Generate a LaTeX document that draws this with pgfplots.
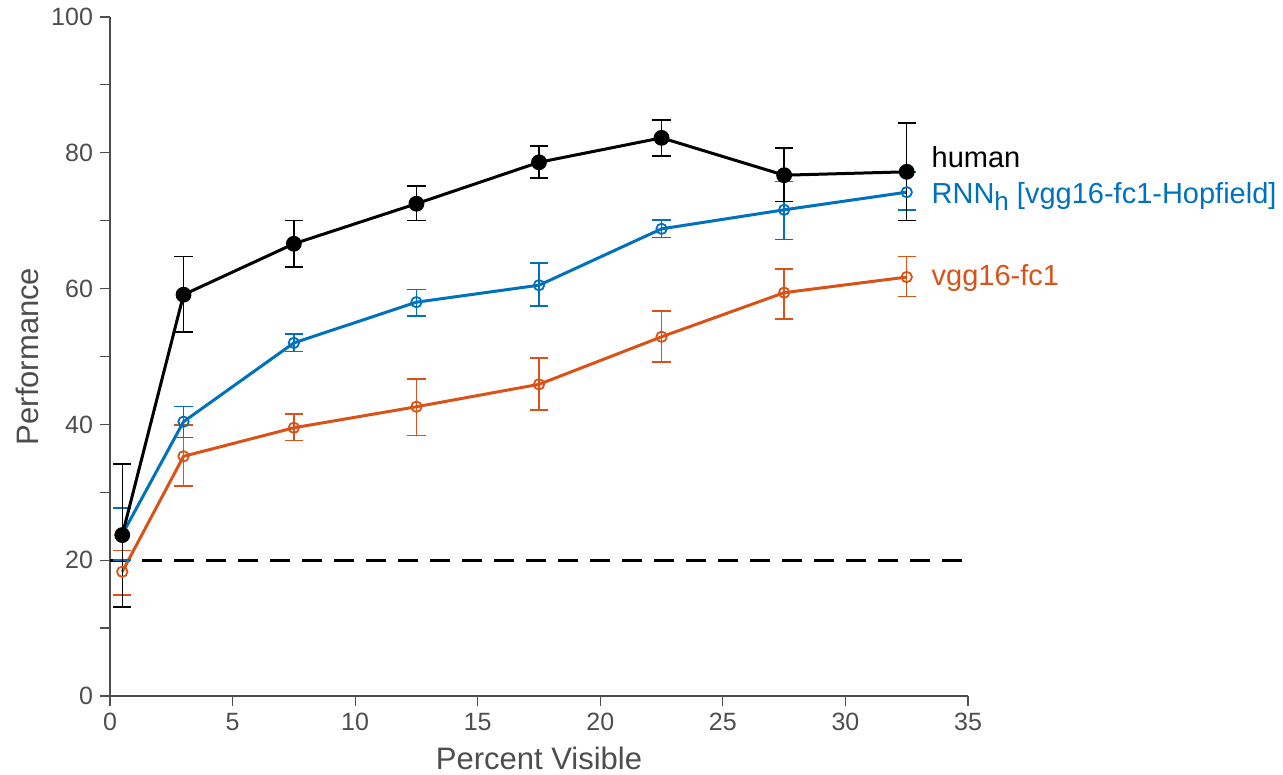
\documentclass[border=0pt]{standalone}
\usepackage{pgfplots}
\pgfplotsset{compat=1.18}
\usepackage{fontspec}
\setmainfont{Liberation Sans}
\definecolor{mblue}{HTML}{0072BD}
\definecolor{morange}{HTML}{D95319}
\definecolor{axgray}{HTML}{4D4D4D}
\begin{document}
\begin{tikzpicture}
\begin{axis}[
  scale only axis, width=429pt, height=339.5pt,
  xmin=0, xmax=35, ymin=0, ymax=100,
  axis lines*=left,
  axis line style={axgray, line width=0.6pt},
  tick align=outside,
  major tick length=5pt, minor tick length=5pt,
  tick style={axgray, line width=0.6pt},
  xtick={0,5,...,35}, ytick={0,20,...,100},
  minor ytick={10,30,50,70,90},
  /pgf/number format/assume math mode=true,
  ticklabel style={font=\fontsize{12.5}{14}\selectfont, text=axgray},
  xlabel={Percent Visible}, ylabel={Performance},
  label style={font=\fontsize{15.5}{17}\selectfont, text=axgray},
  xlabel style={at={(axis description cs:0.5,-0.0913)}, anchor=center},
  ylabel style={at={(axis description cs:-0.0967,0.5)}, anchor=center},
  clip=false,
  error bars/y dir=both, error bars/y explicit,
  error bars/error bar style={line width=0.75pt},
  error bars/error mark options={rotate=90, mark size=4.6pt, line width=0.75pt},
]
\coordinate (o) at (rel axis cs:0,0);
\addplot[black, line width=1.6pt, dash pattern=on 10pt off 6pt, forget plot] coordinates {(0,20) (35,20)};
\addplot[morange, line width=1.5pt, mark=o, mark size=2.6pt, mark options={line width=0.9pt}]
 table[x=x, y=y, y error plus=ep, y error minus=em] {
x y ep em
0.5 18.3 3.1 3.4
3 35.3 4.6 4.4
7.5 39.5 2.0 1.9
12.5 42.6 4.1 4.2
17.5 45.9 3.9 3.8
22.5 52.9 3.8 3.7
27.5 59.4 3.5 3.9
32.5 61.7 3.0 2.9
};
\addplot[mblue, line width=1.5pt, mark=o, mark size=2.6pt, mark options={line width=0.9pt}]
 table[x=x, y=y, y error plus=ep, y error minus=em] {
x y ep em
0.5 23.8 3.9 3.8
3 40.4 2.2 2.3
7.5 52.0 1.3 1.3
12.5 58.0 1.9 2.0
17.5 60.5 3.3 3.1
22.5 68.8 1.3 1.3
27.5 71.6 4.2 4.4
32.5 74.2 3.0 2.6
};
\addplot[black, line width=1.5pt, mark=*, mark size=3.2pt]
 table[x=x, y=y, y error plus=ep, y error minus=em] {
x y ep em
0.5 23.7 10.5 10.6
3 59.1 5.6 5.5
7.5 66.6 3.4 3.4
12.5 72.5 2.6 2.5
17.5 78.6 2.4 2.3
22.5 82.2 2.6 2.7
27.5 76.7 4.0 3.9
32.5 77.2 7.2 7.2
};
\node[anchor=west, font=\fontsize{14.5}{16}\selectfont, text=black, inner sep=0pt] at (axis cs:33.5,79.4) {human};
\node[anchor=west, font=\fontsize{14.5}{16}\selectfont, text=mblue, inner sep=0pt] at (axis cs:33.5,73.6) {RNN\raisebox{-0.45ex}{\fontsize{13}{14}\selectfont h} [vgg16-fc1-Hopfield]};
\node[anchor=west, font=\fontsize{14.5}{16}\selectfont, text=morange, inner sep=0pt] at (axis cs:33.5,61.5) {vgg16-fc1};
\end{axis}
\pgfresetboundingbox
\path ([shift={(-55pt,-39.5pt)}]o) rectangle ([shift={(586.5pt,348pt)}]o);
\end{tikzpicture}
\end{document}
